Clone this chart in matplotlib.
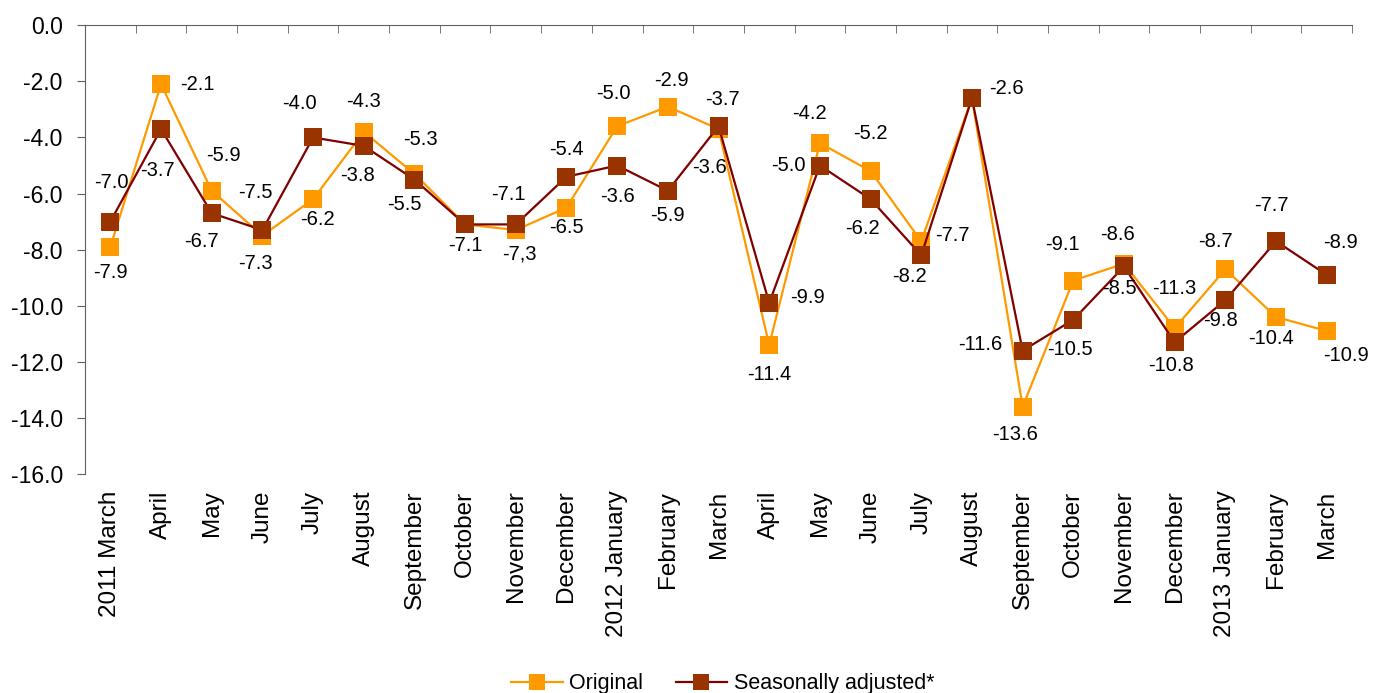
# Chart: original vs seasonally adjusted series, March 2011 - March 2013
import numpy as np
import matplotlib
matplotlib.use('Agg')
import matplotlib.pyplot as plt
from matplotlib.ticker import FormatStrFormatter

plt.rcParams['font.family'] = ['Liberation Sans', 'DejaVu Sans']

# Categories (months)
categorias = ['2011 March', 'April', 'May', 'June', 'July', 'August',
              'September', 'October', 'November', 'December',
              '2012 January', 'February', 'March', 'April', 'May', 'June',
              'July', 'August', 'September', 'October', 'November',
              'December', '2013 January', 'February', 'March']

# Series values
original = [-7.9, -2.1, -5.9, -7.5, -6.2, -3.8, -5.3, -7.1, -7.3, -6.5,
            -3.6, -2.9, -3.7, -11.4, -4.2, -5.2, -7.7, -2.6, -13.6, -9.1,
            -8.5, -10.8, -8.7, -10.4, -10.9]
ajustada = [-7.0, -3.7, -6.7, -7.3, -4.0, -4.3, -5.5, -7.1, -7.1, -5.4,
            -5.0, -5.9, -3.6, -9.9, -5.0, -6.2, -8.2, -2.6, -11.6, -10.5,
            -8.6, -11.3, -9.8, -7.7, -8.9]

# Label placement (pixel offsets from each marker, None = no label)
off_orig = [(0, -26), (36, 0), (12, 35), (-7, 43), (4, -20), (-6, -44),
            (6, 34), (0, -21), (4, -24), (0, -20), (0, -70), (4, 26),
            (4, 30), (0, -29), (-10, 30), (0, 38), (31, 6), (34, 10),
            (-8, -28), (-11, 36), (-5, -25), (-4, -37), (-10, 28),
            (-5, -22), (19, -25)]
off_aj = [(1, 39), (-4, -41), (-10, -28), (-7, -33), (-14, 34), (0, 44),
          (-10, -25), None, (-7, 30), (0, 27), (-4, 72), (0, -25),
          (-9, -41), (38, 5), (-32, 0), (-8, -29), (-12, -21), None,
          (-42, 6), (-3, -30), (-6, 32), (0, 54), (-5, -20), (-5, 36),
          (14, 32)]

x = np.arange(len(categorias))

fig = plt.figure(figsize=(13.87, 6.93), dpi=100)
ax = fig.add_axes([0.0613, 0.316, 0.9135, 0.6475])

ax.plot(x, original, color='#FF9900', lw=1.6, marker='s', ms=13,
        mew=0, mfc='#FF9900', label='Original', zorder=3)
ax.plot(x, ajustada, color='#800000', lw=1.6, marker='s', ms=13,
        mew=0, mfc='#993300', label='Seasonally adjusted*', zorder=4)

# Data labels
for i in range(len(x)):
    for vals, offs in ((original, off_orig), (ajustada, off_aj)):
        if offs[i] is None:
            continue
        txt = f'{vals[i]:.1f}'
        if vals is original and i == 8:
            txt = '-7,3'
        ax.annotate(txt, (x[i], vals[i]), xytext=offs[i],
                    textcoords='offset pixels', ha='center', va='center',
                    fontsize=14.5, color='black', zorder=5)

ax.set_xlim(-0.5, len(x) - 0.5)
ax.set_ylim(-16, 0)
ax.set_yticks(np.arange(-16, 0.1, 2))
ax.yaxis.set_major_formatter(FormatStrFormatter('%.1f'))

ax.set_xticks(x)
ax.set_xticklabels(categorias, rotation=90, fontsize=17.5)
ax.set_xticks(np.arange(-0.5, len(x), 1), minor=True)
ax.tick_params(axis='x', which='major', length=0, pad=12)
ax.tick_params(axis='x', which='minor', top=True, bottom=False,
               direction='in', length=6, color='#606060')
ax.tick_params(axis='y', direction='out', length=6, pad=10,
               labelsize=16.5, color='#606060')

for lado in ['right', 'bottom']:
    ax.spines[lado].set_visible(False)
for lado in ['left', 'top']:
    ax.spines[lado].set_color('#606060')

fig.legend(loc='lower center', bbox_to_anchor=(0.521, -0.03), ncol=2,
           frameon=False, fontsize=15.5, markerscale=0.85,
           handlelength=2.4, columnspacing=1.5, handletextpad=0.3)

fig.savefig('out.png', dpi=100)
